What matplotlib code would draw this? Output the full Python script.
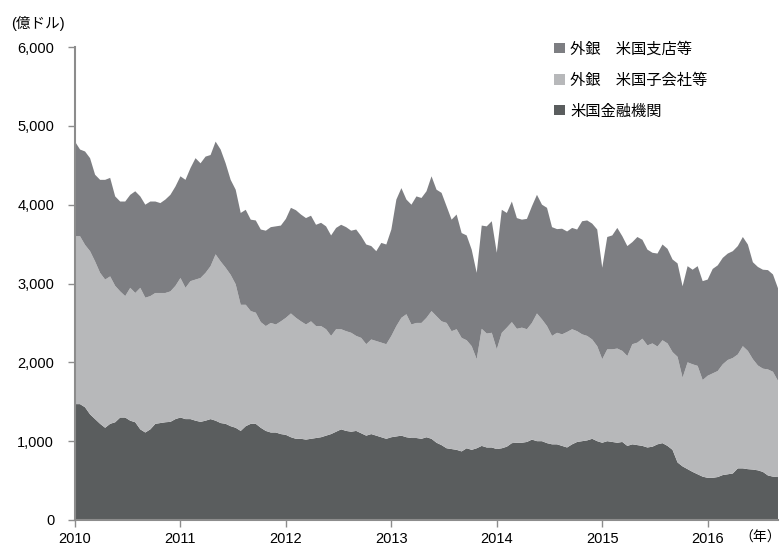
import matplotlib
matplotlib.use("Agg")
import matplotlib.pyplot as plt
from matplotlib.patches import Patch
from matplotlib.ticker import FuncFormatter
import numpy as np

plt.rcParams['font.family'] = ['Liberation Sans', 'Noto Sans CJK JP']

# 約2.5週間ごとの値（2010年初〜2016年9月頃）, 単位: 億ドル
n_points = 141
years = 2010 + np.arange(n_points) / 21

us_banks = [
    1470, 1470, 1430, 1340, 1280, 1220, 1170, 1220, 1240, 1300,
    1300, 1260, 1240, 1150, 1110, 1150, 1220, 1230, 1240, 1245,
    1280, 1300, 1280, 1280, 1260, 1245, 1260, 1280, 1260, 1230,
    1220, 1190, 1170, 1130, 1190, 1220, 1220, 1170, 1130, 1110,
    1110, 1090, 1080, 1050, 1030, 1030, 1020, 1030, 1040, 1050,
    1070, 1090, 1120, 1150, 1130, 1120, 1130, 1100, 1070, 1090,
    1070, 1050, 1030, 1050, 1060, 1070, 1050, 1040, 1040, 1030,
    1050, 1030, 980, 950, 910, 900, 890, 870, 910, 890,
    910, 940, 920, 920, 900, 910, 930, 975, 980, 980,
    990, 1020, 1000, 1000, 975, 960, 960, 940, 920, 960,
    990, 1000, 1010, 1030, 1000, 980, 1000, 990, 980, 990,
    940, 960, 950, 940, 920, 930, 960, 975, 940, 890,
    730, 680, 645, 610, 580, 550, 535, 535, 545, 570,
    580, 590, 655, 655, 645, 640, 630, 610, 565, 550,
    545,
]

foreign_subsidiaries = [
    2130, 2130, 2060, 2070, 2000, 1915, 1880, 1870, 1730, 1600,
    1540, 1685, 1640, 1795, 1710, 1690, 1660, 1650, 1640, 1655,
    1690, 1770, 1665, 1750, 1790, 1825, 1875, 1940, 2110, 2050,
    1980, 1920, 1820, 1600, 1540, 1430, 1410, 1340, 1330, 1390,
    1370, 1430, 1485, 1570, 1535, 1490, 1460, 1490, 1420, 1410,
    1350, 1245, 1300, 1270, 1265, 1255, 1205, 1210, 1160, 1200,
    1200, 1200, 1200, 1285, 1400, 1495, 1560, 1440, 1460, 1470,
    1515, 1620, 1605, 1570, 1590, 1495, 1530, 1440, 1370, 1315,
    1130, 1485, 1445, 1455, 1265, 1465, 1510, 1535, 1445, 1460,
    1430, 1480, 1620, 1545, 1485, 1375, 1415, 1415, 1465, 1460,
    1405, 1355, 1325, 1260, 1205, 1060, 1165, 1175, 1195, 1155,
    1140, 1270, 1300, 1360, 1295, 1310, 1240, 1305, 1300, 1240,
    1340, 1125, 1355, 1365, 1375, 1225, 1295, 1325, 1345, 1405,
    1450, 1465, 1445, 1550, 1500, 1400, 1330, 1310, 1345, 1330,
    1220,
]

foreign_branches = [
    1200, 1100, 1185, 1180, 1100, 1180, 1265, 1250, 1135, 1140,
    1200, 1180, 1290, 1160, 1180, 1200, 1160, 1140, 1185, 1225,
    1260, 1290, 1370, 1435, 1540, 1455, 1475, 1410, 1430, 1420,
    1325, 1205, 1200, 1165, 1205, 1160, 1170, 1175, 1210, 1215,
    1245, 1215, 1255, 1340, 1365, 1355, 1350, 1340, 1285, 1310,
    1305, 1275, 1285, 1325, 1320, 1295, 1350, 1290, 1265, 1185,
    1140, 1265, 1265, 1350, 1605, 1645, 1455, 1520, 1605, 1585,
    1605, 1710, 1605, 1630, 1480, 1415, 1455, 1330, 1330, 1225,
    1095, 1310, 1360, 1415, 1225, 1560, 1455, 1530, 1405, 1370,
    1400, 1480, 1505, 1455, 1500, 1380, 1315, 1340, 1275, 1285,
    1290, 1435, 1465, 1470, 1480, 1160, 1425, 1445, 1530, 1455,
    1395, 1295, 1340, 1255, 1215, 1150, 1180, 1215, 1200, 1175,
    1185, 1160, 1220, 1200, 1265, 1255, 1220, 1325, 1340, 1350,
    1350, 1355, 1375, 1385, 1350, 1230, 1250, 1255, 1260, 1235,
    1175,
]

labels = ['米国金融機関', '外銀\u3000米国子会社等', '外銀\u3000米国支店等']
colors = ['#5a5d5e', '#b7b8ba', '#7d7e82']
year_ticks = [2010, 2011, 2012, 2013, 2014, 2015, 2016]

fig = plt.figure(figsize=(7.83, 5.48), dpi=100)
ax = fig.add_axes([0.0958, 0.0511, 0.8978, 0.8631])

ax.stackplot(years, us_banks, foreign_subsidiaries, foreign_branches,
             colors=colors, linewidth=0)

ax.set_xlim(years[0], years[-1])
ax.set_ylim(0, 6000)
ax.set_yticks(range(0, 6001, 1000))
ax.yaxis.set_major_formatter(FuncFormatter(lambda v, p: f'{int(v):,}'))
ax.set_xticks(year_ticks)
ax.set_xticklabels([str(y) for y in year_ticks])

for side in ['top', 'right']:
    ax.spines[side].set_visible(False)
for side in ['left', 'bottom']:
    ax.spines[side].set_color('#8c8c8c')
    ax.spines[side].set_linewidth(1.5)
ax.tick_params(axis='both', colors='#8c8c8c', length=5, width=1,
               labelcolor='black', labelsize=10.5)
ax.tick_params(axis='y', pad=10)
ax.tick_params(axis='x', pad=4)

fig.text(0.014, 0.957, '(億ドル)', fontsize=10.5, ha='left', va='center')
fig.text(0.998, 0.018, '（年）', fontsize=10, ha='right', va='center')

# 凡例（上から支店・子会社・金融機関）
handles = [Patch(facecolor=c, edgecolor='none') for c in colors]
leg = ax.legend(handles[::-1], labels[::-1], loc='upper left',
                bbox_to_anchor=(0.662, 1.04), frameon=False,
                fontsize=11, handlelength=0.7, handleheight=0.7,
                handletextpad=0.35, labelspacing=1.1)

fig.savefig('out.png', dpi=100)
